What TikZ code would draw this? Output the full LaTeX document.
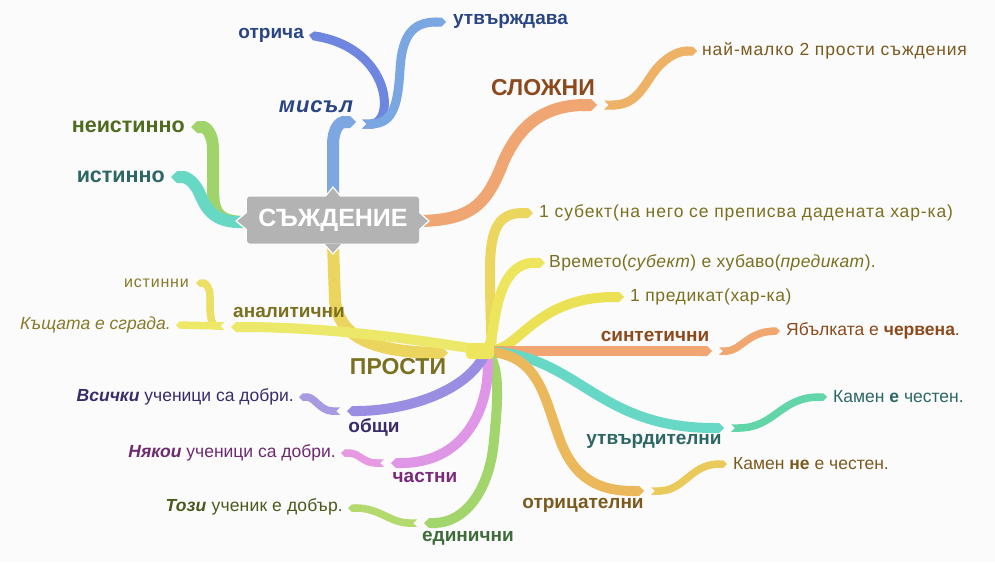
\documentclass[tikz,border=0pt]{standalone}
\usepackage{fontspec}
\setmainfont{Liberation Sans}
\usetikzlibrary{arrows.meta}
\definecolor{bg}{HTML}{FBFBFB}
\definecolor{cMisl}{HTML}{7EA6E0}
\definecolor{cOtr}{HTML}{6F86E0}
\definecolor{cUtv}{HTML}{7AA6E2}
\definecolor{cNeist}{HTML}{A0D46A}
\definecolor{cIst}{HTML}{66D8C4}
\definecolor{cSl}{HTML}{F0A673}
\definecolor{cNm}{HTML}{EEB266}
\definecolor{cPr}{HTML}{EBD55E}
\definecolor{cSub}{HTML}{EBD75E}
\definecolor{cVr}{HTML}{EDE55C}
\definecolor{cPred}{HTML}{EBE155}
\definecolor{cAn}{HTML}{ECE96A}
\definecolor{cIstn}{HTML}{EBDF64}
\definecolor{cKsh}{HTML}{EDE967}
\definecolor{cSin}{HTML}{F0A573}
\definecolor{cYab}{HTML}{F0A870}
\definecolor{cUtvd}{HTML}{67D8C6}
\definecolor{cKe}{HTML}{62D6A8}
\definecolor{cOtrc}{HTML}{EBB85C}
\definecolor{cKne}{HTML}{EBCA5C}
\definecolor{cEd}{HTML}{A2D66C}
\definecolor{cTozi}{HTML}{B4DA6E}
\definecolor{cCh}{HTML}{E096E6}
\definecolor{cNyak}{HTML}{E79AE2}
\definecolor{cOb}{HTML}{9A8EE2}
\definecolor{cVs}{HTML}{A89AE0}
\definecolor{cNode}{HTML}{B3B3B3}
\definecolor{tBlue}{HTML}{2A4585}
\definecolor{tOlGr}{HTML}{4E6B1E}
\definecolor{tTeal}{HTML}{2C6764}
\definecolor{tBrown}{HTML}{8C4A1C}
\definecolor{tBr2}{HTML}{7B5A1E}
\definecolor{tOlive}{HTML}{7A7020}
\definecolor{tOlive2}{HTML}{857A2A}
\definecolor{tGreen}{HTML}{3E6B3A}
\definecolor{tGr2}{HTML}{4A5A1C}
\definecolor{tPurp}{HTML}{7A2A78}
\definecolor{tPurp2}{HTML}{6E2A6E}
\definecolor{tDP}{HTML}{3A2C6C}
\newcommand{\lsp}[1]{\addfontfeature{LetterSpace=#1}}
\begin{document}
\begin{tikzpicture}[x=1pt,y=-1pt,
  mainbr/.style={line width=12pt,-{Triangle Cap}},
  subbr/.style={line width=10pt,{Triangle Cap[reversed]}-{Triangle Cap}},
  leafbr/.style={line width=7.5pt,{Triangle Cap[reversed]}-{Triangle Cap}},
  leaf/.style={inner sep=0pt,font=\fontsize{17.5}{20}\selectfont},
  lab/.style={inner sep=0pt,font=\bfseries\fontsize{19}{22}\selectfont},
  big/.style={inner sep=0pt,font=\bfseries\fontsize{23}{26}\selectfont},
  notch/.style={fill=cNode,draw=white,line width=1.2pt,line join=miter}]
\fill[bg] (0,0) rectangle (995,562);
\useasboundingbox (0,0) rectangle (995,562);
% coordinates
\coordinate (cT) at (333,198);
\coordinate (cB) at (333,244);
\coordinate (cL) at (246,222);
\coordinate (cR) at (420,221);
\coordinate (misl) at (356,122);
\coordinate (mislS) at (362,124);
\coordinate (otr) at (309,35);
\coordinate (utv) at (446,22);
\coordinate (neist) at (191,127);
\coordinate (ist) at (171,177);
\coordinate (slo) at (597,105);
\coordinate (sloS) at (604,105);
\coordinate (nm) at (697,51);
\coordinate (pro) at (448,353);
\coordinate (hub) at (487,351);
\coordinate (sub) at (533,213);
\coordinate (vr) at (545,263);
\coordinate (pred) at (624,297);
\coordinate (an) at (231,327);
\coordinate (anS) at (224,326);
\coordinate (istn) at (196,283);
\coordinate (ksh) at (176,325);
\coordinate (sin) at (712,351);
\coordinate (sinS) at (719,351);
\coordinate (yab) at (780,331);
\coordinate (utd) at (724,428);
\coordinate (utdS) at (731,428);
\coordinate (ke) at (827,397);
\coordinate (otc) at (644,491);
\coordinate (otcS) at (651,491);
\coordinate (kne) at (727,464);
\coordinate (ed) at (424,523);
\coordinate (edS) at (417,523);
\coordinate (tozi) at (348,508);
\coordinate (ch) at (391,463);
\coordinate (chS) at (384,463);
\coordinate (nyak) at (341,453);
\coordinate (ob) at (347,411);
\coordinate (obS) at (340,411);
\coordinate (vs) at (299,397);
% ---- branches from central node
\draw[mainbr,cMisl] (cT) -- (333,145) .. controls (333,128) and (340,122) .. (misl);
\draw[leafbr,cOtr,line width=9pt] (mislS) .. controls (395,124) and (392,50) .. (otr);
\draw[leafbr,cUtv,line width=9pt] (mislS) .. controls (395,124) and (398,100) .. (400,70) .. controls (402,32) and (415,22) .. (utv);
\draw[mainbr,cNeist] (cL) .. controls (215,222) and (213,210) .. (213,185) -- (213,150) .. controls (213,132) and (205,127) .. (neist);
\draw[mainbr,cIst] (cL) .. controls (210,224) and (205,205) .. (198,190) .. controls (192,180) and (186,177) .. (ist);
\draw[mainbr,cSl] (cR) .. controls (470,220) and (485,205) .. (500,170) .. controls (515,130) and (540,105) .. (slo);
\draw[leafbr,cNm,line width=9pt] (sloS) .. controls (640,105) and (645,80) .. (660,65) .. controls (672,53) and (682,51) .. (nm);
\draw[mainbr,cPr] (cB) -- (335,300) .. controls (338,335) and (370,352) .. (pro);
% ---- sub-branches of ПРОСТИ
\draw[subbr,cSub] (hub) .. controls (492,340) and (490,320) .. (490,270) .. controls (490,226) and (500,213) .. (sub);
\draw[subbr,cVr] (hub) .. controls (495,330) and (495,262) .. (vr);
\draw[subbr,cPred] (hub) .. controls (520,345) and (540,297) .. (pred);
\draw[subbr,cAn] (hub) .. controls (420,340) and (330,327) .. (an);
\draw[leafbr,cIstn] (anS) .. controls (212,326) and (210,318) .. (210,305) -- (210,296) .. controls (210,287) and (205,283) .. (istn);
\draw[leafbr,cKsh] (anS) -- (ksh);
\draw[subbr,cSin] (hub) -- (sin);
\draw[leafbr,cYab] (sinS) .. controls (740,351) and (748,332) .. (yab);
\draw[subbr,cUtvd] (hub) .. controls (580,360) and (600,428) .. (utd);
\draw[leafbr,cKe] (utdS) .. controls (775,428) and (780,397) .. (ke);
\draw[subbr,cOtrc] (hub) .. controls (540,360) and (545,400) .. (560,440) .. controls (575,480) and (600,491) .. (otc);
\draw[leafbr,cKne] (otcS) .. controls (685,491) and (690,464) .. (kne);
\draw[subbr,cEd] (hub) .. controls (500,375) and (497,410) .. (494,440) .. controls (490,490) and (465,523) .. (ed);
\draw[leafbr,cTozi] (edS) .. controls (390,523) and (380,508) .. (tozi);
\draw[subbr,cCh] (hub) .. controls (490,400) and (470,463) .. (ch);
\draw[leafbr,cNyak] (chS) .. controls (362,463) and (360,453) .. (nyak);
\draw[subbr,cOb] (hub) .. controls (460,395) and (400,411) .. (ob);
\draw[leafbr,cVs] (obS) .. controls (320,411) and (315,397) .. (vs);
\fill[cVr,rounded corners=4pt] (466,343) rectangle (494,359);
% ---- central node
\draw[notch] (324,198) -- (333,187) -- (342,198);
\draw[notch] (324,244) -- (333,254) -- (342,244);
\draw[notch] (247,212) -- (236,221) -- (247,230);
\draw[notch] (419,212) -- (429,221) -- (419,230);
\node[fill=cNode,rounded corners=3pt,minimum width=172pt,minimum height=47pt,inner sep=0pt,text=white,font=\bfseries\fontsize{25}{28}\selectfont] (C) at (333,220) {СЪЖДЕНИЕ};
% ---- labels
\node[lab,text=tBlue,anchor=east] (Lotr) at (304,35) {отрича};
\node[lab,text=tBlue,anchor=west] (Lutv) at (453,21) {утвърждава};
\node[inner sep=0pt,font=\bfseries\itshape\fontsize{22}{25}\selectfont\lsp{4},text=tBlue] (Lmisl) at (316,107) {мисъл};
\node[inner sep=0pt,font=\bfseries\fontsize{21.5}{24}\selectfont,text=tOlGr,anchor=east] (Lneist) at (185,127) {неистинно};
\node[inner sep=0pt,font=\bfseries\fontsize{21.5}{24}\selectfont,text=tTeal,anchor=east] (List) at (165,177) {истинно};
\node[big,text=tBrown] (Lslo) at (543,88) {СЛОЖНИ};
\node[leaf,font=\fontsize{17.5}{20}\selectfont\lsp{5},text=tBr2,anchor=west] (Lnm) at (702,51) {най-малко 2 прости съждения};
\node[big,text=tOlive] (Lpro) at (398,367) {ПРОСТИ};
\node[leaf,font=\fontsize{17.5}{20}\selectfont\lsp{5},text=tOlive,anchor=west] (Lsub) at (539,213) {1 субект(на него се преписва дадената хар-ка)};
\node[leaf,font=\fontsize{17.5}{20}\selectfont\lsp{2.3},text=tOlive,anchor=west] (Lvr) at (549,263) {Времето(\textit{субект}) е хубаво(\textit{предикат}).};
\node[leaf,font=\fontsize{17.5}{20}\selectfont\lsp{3.4},text=tOlive,anchor=west] (Lpred) at (630,297) {1 предикат(хар-ка)};
\node[lab,text=tOlive] (Lan) at (289,312) {аналитични};
\node[leaf,font=\fontsize{16}{18}\selectfont\lsp{5},text=tOlive2,anchor=east] (Listn) at (189,283) {истинни};
\node[leaf,font=\itshape\fontsize{17.5}{20}\selectfont,text=tOlive2,anchor=east] (Lksh) at (171,325) {Къщата е сграда.};
\node[lab,text=tBrown] (Lsin) at (655,336) {синтетични};
\node[leaf,text=tBrown,anchor=west] (Lyab) at (786,331) {Ябълката е \textbf{червена}.};
\node[lab,text=tTeal] (Lutd) at (654,441) {утвърдителни};
\node[leaf,text=tTeal,anchor=west] (Lke) at (833,397) {Камен \textbf{е} честен.};
\node[lab,text=tBr2] (Lotc) at (583,505) {отрицателни};
\node[leaf,text=tBr2,anchor=west] (Lkne) at (733,464) {Камен \textbf{не} е честен.};
\node[lab,text=tGreen] (Led) at (468,538) {единични};
\node[leaf,font=\fontsize{17.5}{20}\selectfont\lsp{1},text=tGr2,anchor=east] (Ltozi) at (343,507) {\textbf{\textit{Този}} ученик е добър.};
\node[lab,text=tPurp] (Lch) at (425,477) {частни};
\node[leaf,text=tPurp2,anchor=east] (Lnyak) at (336,453) {\textbf{\textit{Някои}} ученици са добри.};
\node[lab,text=tDP] (Lob) at (374,427) {общи};
\node[leaf,text=tDP,anchor=east] (Lvs) at (294,397) {\textbf{\textit{Всички}} ученици са добри.};
\end{tikzpicture}
\end{document}
